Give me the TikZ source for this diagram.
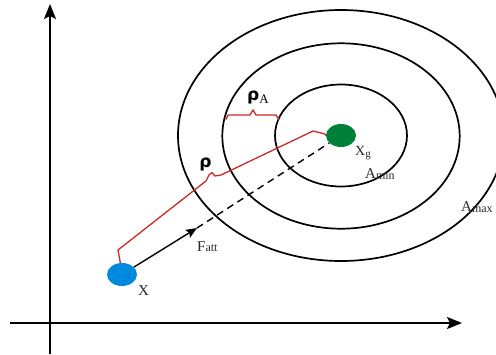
\documentclass[tikz,border=0pt]{standalone}
\usepackage{fontspec}
\setmainfont{Liberation Serif}
\newfontfamily\rhofont{DejaVu Sans}
\usetikzlibrary{arrows.meta,shapes.geometric}
\definecolor{pathred}{RGB}{205,40,40}
\definecolor{startblue}{RGB}{0,138,222}
\definecolor{goalgreen}{RGB}{0,128,56}
\definecolor{lblgray}{RGB}{40,40,40}
\tikzset{
  axis/.style={line width=1.9pt,-{Stealth[length=15pt,width=12pt,inset=3pt]}},
  ring/.style={line width=1.7pt,black},
  redline/.style={line width=1.3pt,pathred,line join=round},
  dot/.style={ellipse,minimum width=30pt,minimum height=23pt,inner sep=0pt,draw=none},
  lbl/.style={font=\fontsize{15}{17}\selectfont,text=lblgray,inner sep=0pt,anchor=base west},
  rholbl/.style={font=\fontsize{17}{19}\rhofont\bfseries,inner sep=0pt},
  guide/.style={line width=1.4pt,black,dash pattern=on 7pt off 5pt},
  force/.style={line width=1.4pt,black,-{Stealth[length=11pt,width=9pt,inset=2pt]}}
}
\begin{document}
\begin{tikzpicture}[x=1pt,y=-1pt]
\useasboundingbox (0,0) rectangle (496,354);
% axes
\coordinate (O1) at (50,354);
\coordinate (Ytip) at (50,4);
\coordinate (O2) at (10,323);
\coordinate (Xtip) at (462,323);
\draw[axis] (O1) -- (Ytip);
\draw[axis] (O2) -- (Xtip);
% rings
\draw[ring] (341,135.5) ellipse [x radius=163pt, y radius=125.5pt];
\draw[ring] (341,136) ellipse [x radius=118.7pt, y radius=92.7pt];
\draw[ring] (341,135.5) ellipse [x radius=66pt, y radius=51pt];
% points
\node[dot,fill=startblue] (X) at (122,274.5) {};
\node[dot,fill=goalgreen] (G) at (341,135.5) {};
% force and guide
\coordinate (F) at (197,228);
\draw[guide] (F) -- (G);
\draw[force] (X) -- (F);
% red distance path
\draw[redline] (X.98) -- (118,250) -- (206,181) -- (209,175) -- (212,172.5) -- (215,176) -- (221,175) -- (313,131) -- (325,134) -- (G.west);
% rho_A brace
\coordinate (BL) at (226,119.5);
\coordinate (BR) at (279,119.5);
\draw[redline] (BL) -- (228,115) -- (250,115) -- (253,110) -- (256,115) -- (276,115) -- (BR);
% labels
\node[lbl] (lX) at (138,295) {X};
\node[lbl,font=\fontsize{14}{16}\selectfont] (lXg) at (355,155.5) {X\raisebox{-2pt}{\fontsize{11}{11}\selectfont g}};
\node[lbl] (lAmin) at (365,178) {A\raisebox{-1pt}{\fontsize{12}{12}\selectfont min}};
\node[lbl] (lAmax) at (461,211) {A\raisebox{-1pt}{\fontsize{12}{12}\selectfont max}};
\node[lbl] (lF) at (197,251.7) {F{\fontsize{12}{12}\selectfont att}};
\node[rholbl] (lrho) at (205.5,164) {ρ};
\node[rholbl,anchor=west] (lrhoA) at (247,97) {ρ\raisebox{-3pt}{\fontsize{13}{13}\mdseries\rmfamily A}};
\end{tikzpicture}
\end{document}
